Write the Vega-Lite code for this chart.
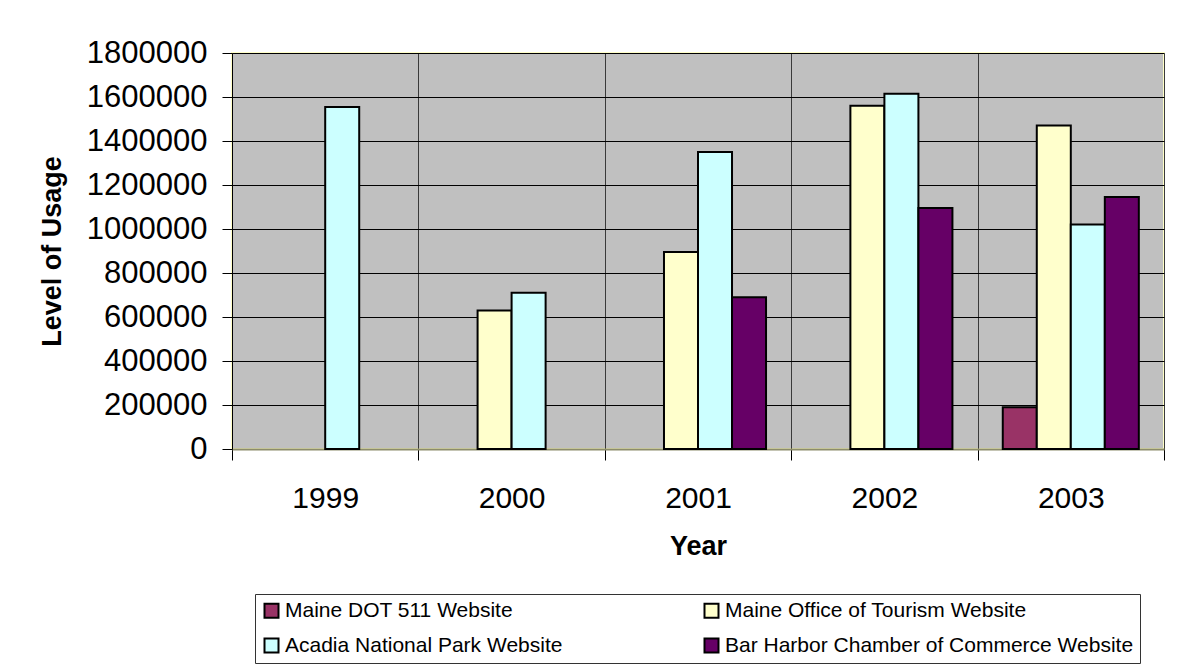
{
  "$schema": "https://vega.github.io/schema/vega-lite/v6.json",
  "autosize": {"type": "none"},
  "width": 932,
  "height": 396,
  "padding": {"left": 232, "top": 53, "right": 13, "bottom": 220},
  "background": "#ffffff",
  "data": {
    "values": [
      {"year": "1999", "site": "Acadia National Park Website", "usage": 1555000},
      {"year": "2000", "site": "Maine Office of Tourism Website", "usage": 630000},
      {"year": "2000", "site": "Acadia National Park Website", "usage": 710000},
      {"year": "2001", "site": "Maine Office of Tourism Website", "usage": 895000},
      {"year": "2001", "site": "Acadia National Park Website", "usage": 1350000},
      {"year": "2001", "site": "Bar Harbor Chamber of Commerce Website", "usage": 690000},
      {"year": "2002", "site": "Maine Office of Tourism Website", "usage": 1560000},
      {"year": "2002", "site": "Acadia National Park Website", "usage": 1615000},
      {"year": "2002", "site": "Bar Harbor Chamber of Commerce Website", "usage": 1095000},
      {"year": "2003", "site": "Maine DOT 511 Website", "usage": 190000},
      {"year": "2003", "site": "Maine Office of Tourism Website", "usage": 1470000},
      {"year": "2003", "site": "Acadia National Park Website", "usage": 1020000},
      {"year": "2003", "site": "Bar Harbor Chamber of Commerce Website", "usage": 1145000}
    ]
  },
  "mark": {"type": "bar", "stroke": "#000000", "strokeWidth": 2},
  "encoding": {
    "x": {
      "field": "year",
      "type": "nominal",
      "sort": ["1999", "2000", "2001", "2002", "2003"],
      "scale": {"paddingInner": 0, "paddingOuter": 0},
      "axis": {
        "title": "Year",
        "labelAngle": 0,
        "tickBand": "extent",
        "tickSize": 11,
        "tickColor": "#000000",
        "labelPadding": 23,
        "labelFontSize": 30,
        "titleFontSize": 27,
        "titlePadding": 20,
        "grid": true,
        "gridColor": "#3a3a3a",
        "gridWidth": 1,
        "domainColor": "#8c8c6a",
        "domainWidth": 2
      }
    },
    "xOffset": {
      "field": "site",
      "type": "nominal",
      "scale": {
        "domain": ["Maine DOT 511 Website", "Maine Office of Tourism Website", "Acadia National Park Website", "Bar Harbor Chamber of Commerce Website"],
        "paddingInner": 0,
        "paddingOuter": 0.74
      }
    },
    "y": {
      "field": "usage",
      "type": "quantitative",
      "scale": {"domain": [0, 1800000], "nice": false},
      "axis": {
        "title": "Level of Usage",
        "values": [0, 200000, 400000, 600000, 800000, 1000000, 1200000, 1400000, 1600000, 1800000],
        "format": "d",
        "tickSize": 10,
        "tickColor": "#000000",
        "labelPadding": 15,
        "labelFontSize": 31,
        "titleFontSize": 27,
        "titlePadding": 20,
        "grid": true,
        "gridColor": "#000000",
        "gridWidth": 1,
        "domainColor": "#000000",
        "domainWidth": 1
      }
    },
    "color": {
      "field": "site",
      "type": "nominal",
      "scale": {
        "domain": ["Maine DOT 511 Website", "Maine Office of Tourism Website", "Acadia National Park Website", "Bar Harbor Chamber of Commerce Website"],
        "range": ["#993366", "#FFFFCC", "#CCFFFF", "#660066"]
      },
      "legend": {
        "title": null,
        "orient": "none",
        "legendX": 23,
        "legendY": 541,
        "direction": "horizontal",
        "columns": 2,
        "columnPadding": 137,
        "rowPadding": 12,
        "padding": 6,
        "strokeColor": "#333333",
        "fillColor": "#ffffff",
        "symbolType": "square",
        "symbolSize": 196,
        "symbolStrokeColor": "#000000",
        "symbolStrokeWidth": 2,
        "symbolOpacity": 1,
        "labelFontSize": 21,
        "labelOffset": 3,
        "labelLimit": 600,
        "labelColor": "#000000"
      }
    }
  },
  "config": {
    "font": "Liberation Sans",
    "view": {"fill": "#C0C0C0", "stroke": "#FFFFC8", "strokeWidth": 2},
    "axis": {
      "labelColor": "#000000",
      "titleColor": "#000000",
      "labelFont": "Liberation Sans",
      "titleFont": "Liberation Sans",
      "titleFontWeight": "bold",
      "gridOpacity": 1
    },
    "legend": {"labelFont": "Liberation Sans"}
  }
}
